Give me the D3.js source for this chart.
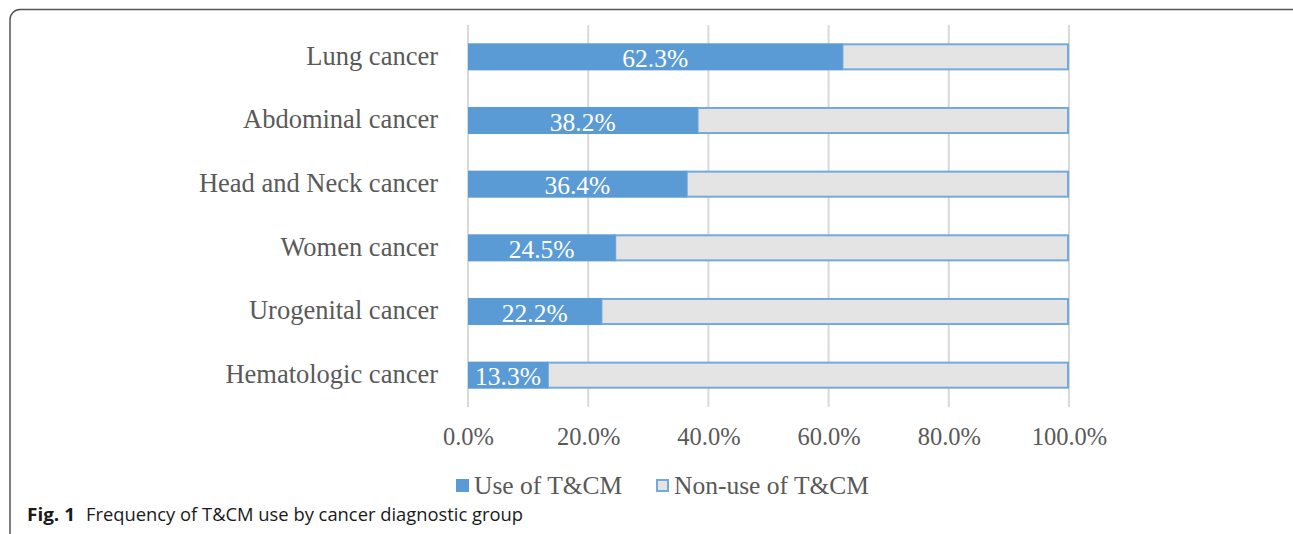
<!DOCTYPE html>
<html>
<head>
<meta charset="utf-8">
<script src="https://cdn.jsdelivr.net/npm/d3@7"></script>
<style>
  body { margin: 0; background: #fff; }
</style>
</head>
<body>
<script>
    // data
    var categories = ['Lung cancer', 'Abdominal cancer', 'Head and Neck cancer', 'Women cancer', 'Urogenital cancer', 'Hematologic cancer'];
    var useValues = [62.3, 38.2, 36.4, 24.5, 22.2, 13.3];
    var seriesNames = ['Use of T&CM', 'Non-use of T&CM'];
    var tickValues = [0, 20, 40, 60, 80, 100];

    var W = 1293, H = 534;
    var mLeft = 468, mRight = 1069, mTop = 25, mBottom = 407;

    var svg = d3.select('body').append('svg')
        .attr('width', W)
        .attr('height', H);

    // outer frame of the figure
    svg.append('rect')
        .attr('x', 10).attr('y', 9.5)
        .attr('width', 1295).attr('height', 540)
        .attr('rx', 10).attr('ry', 10)
        .attr('fill', 'none')
        .attr('stroke', '#555')
        .attr('stroke-width', 1.5);

    var x = d3.scaleLinear().domain([0, 100]).range([mLeft, mRight]);
    var y = d3.scaleBand().domain(categories).range([mTop, mBottom]).paddingInner(0.575).paddingOuter(0.2875);

    var serif = '"Liberation Serif", "Times New Roman", serif';

    // gridlines
    svg.append('g')
        .selectAll('line')
        .data(tickValues)
        .enter()
        .append('line')
        .attr('x1', d => x(d)).attr('x2', d => x(d))
        .attr('y1', mTop).attr('y2', mBottom)
        .attr('stroke', '#d9d9d9')
        .attr('stroke-width', 2);

    var rows = categories.map((c, i) => ({ name: c, use: useValues[i], non: 100 - useValues[i] }));

    // non-use part (gray with blue outline)
    svg.append('g')
        .selectAll('rect')
        .data(rows)
        .enter()
        .append('rect')
        .attr('x', d => x(d.use))
        .attr('y', d => y(d.name) + 1)
        .attr('width', d => x(100) - x(d.use) - 1)
        .attr('height', y.bandwidth() - 2)
        .attr('fill', '#e4e4e4')
        .attr('stroke', '#74a9dc')
        .attr('stroke-width', 2);

    // use part
    svg.append('g')
        .selectAll('rect')
        .data(rows)
        .enter()
        .append('rect')
        .attr('x', x(0))
        .attr('y', d => y(d.name))
        .attr('width', d => x(d.use) - x(0))
        .attr('height', y.bandwidth())
        .attr('fill', '#5b9bd5');

    // value labels
    svg.append('g')
        .selectAll('text')
        .data(rows)
        .enter()
        .append('text')
        .attr('x', d => (x(0) + x(d.use)) / 2)
        .attr('y', d => y(d.name) + y.bandwidth() / 2 + 1)
        .attr('dy', '0.36em')
        .attr('text-anchor', 'middle')
        .attr('fill', '#fff')
        .style('font-family', serif)
        .style('font-size', '25.5px')
        .text(d => d.use.toFixed(1) + '%');

    // category labels
    svg.append('g')
        .selectAll('text')
        .data(categories)
        .enter()
        .append('text')
        .attr('x', 438)
        .attr('y', d => y(d) + y.bandwidth() / 2)
        .attr('dy', '0.3em')
        .attr('text-anchor', 'end')
        .attr('fill', '#595959')
        .style('font-family', serif)
        .style('font-size', '26.5px')
        .text(d => d);

    // x axis labels
    var xAxis = d3.axisBottom(x)
        .tickValues(tickValues)
        .tickSize(0)
        .tickPadding(21)
        .tickFormat(d => d.toFixed(1) + '%');

    var gx = svg.append('g')
        .attr('transform', 'translate(0,' + mBottom + ')')
        .call(xAxis);
    gx.select('.domain').remove();
    gx.selectAll('text')
        .attr('fill', '#595959')
        .style('font-family', serif)
        .style('font-size', '24.5px');

    // legend
    var legendX = [456, 656];
    var legend = svg.append('g')
        .selectAll('g')
        .data(seriesNames)
        .enter()
        .append('g')
        .attr('transform', (d, i) => 'translate(' + legendX[i] + ',479)');

    legend.append('rect')
        .attr('x', (d, i) => i ? 1 : 0)
        .attr('y', (d, i) => i ? 1 : 0)
        .attr('width', (d, i) => i ? 11 : 13)
        .attr('height', (d, i) => i ? 11 : 13)
        .attr('fill', (d, i) => i ? '#e4e4e4' : '#5b9bd5')
        .attr('stroke', (d, i) => i ? '#74a9dc' : 'none')
        .attr('stroke-width', 2);

    legend.append('text')
        .attr('x', 18)
        .attr('y', 6.5)
        .attr('dy', '0.34em')
        .attr('fill', '#595959')
        .style('font-family', serif)
        .style('font-size', '25.5px')
        .text(d => d);

    // caption
    var capFont = '"Open Sans", "Noto Sans", sans-serif';
    svg.append('text')
        .attr('x', 27)
        .attr('y', 521)
        .attr('fill', '#1a1a1a')
        .attr('textLength', 48)
        .attr('lengthAdjust', 'spacingAndGlyphs')
        .style('font-family', capFont)
        .style('font-size', '18px')
        .style('font-weight', 'bold')
        .text('Fig. 1');
    svg.append('text')
        .attr('x', 86)
        .attr('y', 521)
        .attr('fill', '#1a1a1a')
        .attr('textLength', 437)
        .attr('lengthAdjust', 'spacingAndGlyphs')
        .style('font-family', capFont)
        .style('font-size', '18px')
        .text('Frequency of T&CM use by cancer diagnostic group');
</script>
</body>
</html>
